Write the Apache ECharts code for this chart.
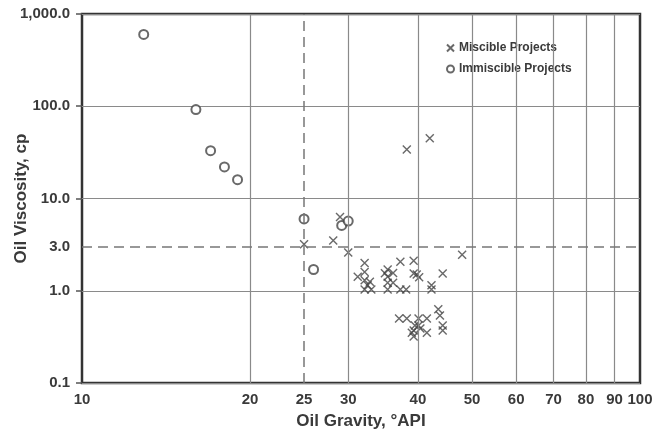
<!DOCTYPE html>
<html>
<head>
<meta charset="utf-8">
<script src="https://cdn.jsdelivr.net/npm/echarts@6/dist/echarts.min.js"></script>
<style>
  html, body { margin: 0; padding: 0; background: #fff; }
  #chart { width: 658px; height: 440px; }
</style>
</head>
<body>
<div id="chart"></div>
<script>
// 数据：油品重度 (°API) 与 粘度 (cp)
const miscibleGravity = [25, 28.2, 29, 30, 48, 38.2, 42,
  32.1, 32.1, 31.2, 32.1, 32.8, 32.1, 33.0, 32.5,
  35.3, 35.3, 35.3, 35.3, 36.1, 36.1, 34.9,
  37.2, 37.2, 38.1, 39.3, 39.3, 40.2, 39.8,
  42.3, 42.3, 44.3,
  37.0, 38.2, 40.1, 41.5, 39.5, 40.1, 39.3, 39.3, 40.4, 41.5, 43.5, 43.8, 44.3, 44.3, 39.0];
const miscibleViscosity = [3.2, 3.5, 6.3, 2.6, 2.45, 34, 45,
  2.0, 1.6, 1.42, 1.3, 1.25, 1.03, 1.03, 1.15,
  1.7, 1.42, 1.22, 1.03, 1.56, 1.22, 1.55,
  2.06, 1.03, 1.03, 2.11, 1.54, 1.4, 1.5,
  1.15, 1.03, 1.54,
  0.5, 0.5, 0.5, 0.5, 0.42, 0.42, 0.37, 0.32, 0.39, 0.35, 0.63, 0.54, 0.42, 0.37, 0.35];
const immiscibleGravity = [12.9, 16, 17, 18, 19, 25, 26, 29.2, 30];
const immiscibleViscosity = [600, 92, 33, 22, 16, 6, 1.7, 5.1, 5.7];

const gravityGridLines = [20, 30, 40, 50, 60, 70, 80, 90];
const cutoffGravity = 25;
const cutoffViscosity = 3;

const textColor = '#3a3a3a';
const markColor = '#444';
const crossPath = 'path://M0,0L10,10M10,0L0,10';

const chart = echarts.init(document.getElementById('chart'), null, { renderer: 'canvas' });

// 竖向网格线 (20..90) 以及 25 °API 虚线
const vLines = gravityGridLines.map(v => ({
  xAxis: v,
  lineStyle: { type: 'solid', color: '#8a8a8a', width: 1.2 },
  label: { formatter: String(v) }
}));
vLines.push({
  xAxis: cutoffGravity,
  lineStyle: { type: [10, 6], color: '#777', width: 1.5 },
  label: { formatter: String(cutoffGravity) }
});

chart.setOption({
  animation: false,
  textStyle: { fontFamily: '"Liberation Sans", Arial, sans-serif' },
  grid: {
    left: 82, right: 18, top: 14, bottom: 57,
    outerBoundsMode: 'none',
    containLabel: false,
    show: true, borderColor: '#333', borderWidth: 2.5, backgroundColor: 'transparent'
  },
  legend: {
    orient: 'vertical',
    left: 442, top: 39,
    padding: [3, 4],
    backgroundColor: '#fff',
    itemWidth: 7, itemHeight: 7, itemGap: 9,
    textStyle: { color: textColor, fontSize: 12, fontWeight: 'bold' },
    data: [
      { name: 'Miscible Projects', icon: crossPath },
      { name: 'Immiscible Projects', icon: 'emptyCircle' }
    ]
  },
  xAxis: {
    type: 'log', logBase: 10, min: 10, max: 100,
    name: 'Oil Gravity, °API',
    nameLocation: 'middle', nameGap: 30, nameMoveOverlap: false,
    nameTextStyle: { color: textColor, fontSize: 17, fontWeight: 'bold' },
    axisLine: { show: false },
    axisTick: { show: false },
    splitLine: { show: false },
    axisLabel: { color: textColor, fontSize: 15, fontWeight: 'bold', margin: 9 }
  },
  yAxis: {
    type: 'log', logBase: 10, min: 0.1, max: 1000,
    name: 'Oil Viscosity, cp',
    nameLocation: 'middle', nameGap: 52, nameMoveOverlap: false,
    nameTextStyle: { color: textColor, fontSize: 17, fontWeight: 'bold' },
    axisLine: { show: false },
    axisTick: { show: true, length: 6, lineStyle: { color: '#555', width: 1.5 } },
    splitLine: { show: true, lineStyle: { color: '#8a8a8a', width: 1.2 } },
    axisLabel: {
      color: textColor, fontSize: 15, fontWeight: 'bold', margin: 12,
      formatter: v => Number(v).toLocaleString('en-US', { minimumFractionDigits: 1, maximumFractionDigits: 1 })
    }
  },
  series: [
    {
      name: 'Miscible Projects',
      type: 'scatter',
      symbol: crossPath,
      symbolSize: 8,
      z: 3,
      itemStyle: { color: markColor, borderColor: markColor, borderWidth: 1.4 },
      data: miscibleGravity.map((g, i) => [g, miscibleViscosity[i]]),
      markLine: {
        silent: true,
        symbol: 'none',
        animation: false,
        label: { position: 'start', distance: 9, color: textColor, fontSize: 15, fontWeight: 'bold' },
        data: vLines.concat([{
          yAxis: cutoffViscosity,
          lineStyle: { type: [10, 6], color: '#777', width: 1.5 },
          label: { formatter: cutoffViscosity.toFixed(1), distance: 12 }
        }])
      }
    },
    {
      name: 'Immiscible Projects',
      type: 'scatter',
      symbol: 'emptyCircle',
      symbolSize: 9,
      z: 4,
      itemStyle: { color: markColor, borderColor: markColor, borderWidth: 1.3 },
      data: immiscibleGravity.map((g, i) => [g, immiscibleViscosity[i]])
    }
  ]
});
</script>
</body>
</html>
